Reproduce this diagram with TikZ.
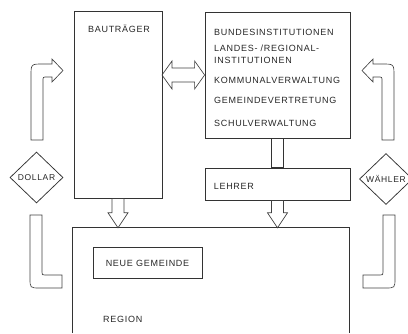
\documentclass[tikz,border=0pt]{standalone}
\usepackage{fontspec}
\setmainfont{Liberation Sans}
\newfontfamily\stencil[LetterSpace=8]{Liberation Sans}
\usetikzlibrary{calc,shapes.geometric}

% hollow arrows, drawn in pixel units
\newcommand{\bentarrow}{\draw[blk] (31,140) -- (31,76) .. controls (31,64) .. (43,64) -- (52,64) -- (52,59) -- (63,70.5) -- (52,82) -- (52,77) -- (47,77) .. controls (43,77) .. (43,81) -- (43,140) -- cycle;}
\newcommand{\lshape}{\draw[blk] (30,215) -- (30,278) .. controls (30,288) .. (40,288) -- (62,288) -- (62,275) -- (45,275) .. controls (42,275) .. (42,272) -- (42,215) -- cycle;}
\newcommand{\hollowdown}[2]{\draw[blk] ($(#1)+(-6,0)$) -- ($(#1)+(6,0)$) -- ($(#2)+(6,-15)$) -- ($(#2)+(10,-15)$) -- (#2) -- ($(#2)+(-10,-15)$) -- ($(#2)+(-6,-15)$) -- cycle;}

\begin{document}
\begin{tikzpicture}[x=1pt,y=-1pt,
  box/.style={draw=black!80, line width=0.75pt},
  blk/.style={draw=black!75, line width=0.65pt},
  lbl/.style={inner sep=0pt, text height=7pt, text depth=0pt, text=black!85,
    font=\stencil\fontsize{9}{10}\selectfont},
  small/.style={lbl, text height=6pt, font=\stencil\fontsize{8.5}{9}\selectfont}]
\useasboundingbox (0,0) rectangle (408,333);

% boxes
\node[box, minimum width=88pt, minimum height=187pt] (bau) at (118,104.5) {};
\node[box, minimum width=145pt, minimum height=126pt] (inst) at (277.5,75) {};
\node[box, minimum width=145pt, minimum height=32pt] (lehrer) at (277.5,184) {};
\node[minimum width=276pt, minimum height=105pt, inner sep=0pt] (region) at (211,280.5) {};
\draw[box] (region.south west) -- (region.north west) -- (region.north east) -- (region.south east);
\node[box, lbl, minimum width=109pt, minimum height=31pt] (neue) at (147.5,262.5) {NEUE GEMEINDE};
\draw[box] ($(inst.south)+(-6,0)$) rectangle ($(lehrer.north)+(6,0)$);

% texts
\node[lbl] (baulbl) at (119,28.5) {BAUTRÄGER};
\node[lbl, anchor=west] (t1) at (214,32) {BUNDESINSTITUTIONEN};
\node[lbl, anchor=west] (t2) at (214,48) {LANDES- /REGIONAL-};
\node[lbl, anchor=west] (t3) at (214,60) {INSTITUTIONEN};
\node[lbl, anchor=west] (t4) at (214,80) {KOMMUNALVERWALTUNG};
\node[lbl, anchor=west] (t5) at (214,100) {GEMEINDEVERTRETUNG};
\node[lbl, anchor=west] (t6) at (214,123) {SCHULVERWALTUNG};
\node[lbl, anchor=west] (lehrerlbl) at ($(lehrer.west)+(9,2)$) {LEHRER};
\node[lbl, anchor=west] (regionlbl) at (103,319) {REGION};

% diamonds
\node[diamond, box, small, minimum width=53pt, minimum height=51pt] (dollar) at (36.5,177.5) {DOLLAR};
\node[diamond, box, small, minimum width=53pt, minimum height=51pt] (waehler) at (386,179) {WÄHLER};

% arrows
\coordinate (dl) at (162,75);
\coordinate (dr) at (inst.west |- dl);
\draw[blk] (dl) -- ($(dl)+(10,-14)$) -- ($(dl)+(10,-7)$) -- ($(dr)+(-10,-7)$) -- ($(dr)+(-10,-14)$) -- (dr)
  -- ($(dr)+(-10,14)$) -- ($(dr)+(-10,7)$) -- ($(dl)+(10,7)$) -- ($(dl)+(10,14)$) -- cycle;

\coordinate (bautip) at (bau.south |- region.north);
\coordinate (lehrertip) at (lehrer.south |- region.north);
\hollowdown{bau.south}{bautip}
\hollowdown{lehrer.south}{lehrertip}

\bentarrow
\lshape
\begin{scope}[xshift=425pt, xscale=-1]
\bentarrow
\lshape
\end{scope}
\end{tikzpicture}
\end{document}
